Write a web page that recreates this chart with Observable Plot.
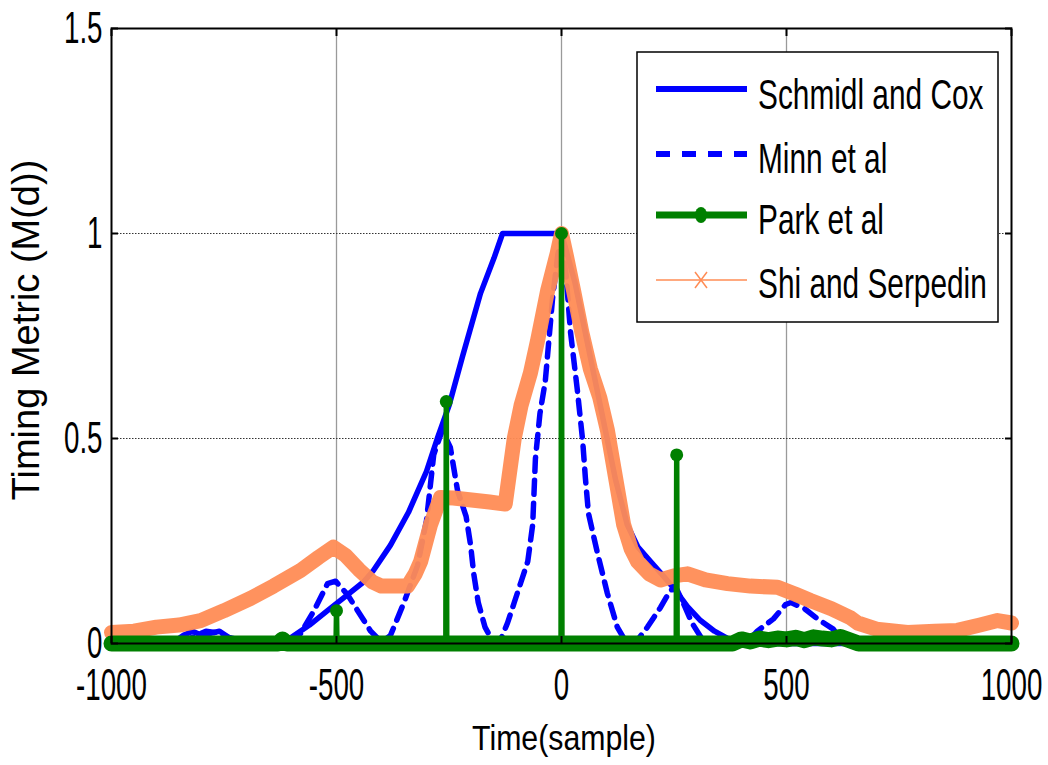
<!DOCTYPE html>
<html>
<head>
<meta charset="utf-8">
<script src="https://cdn.jsdelivr.net/npm/d3@7"></script>
<script src="https://cdn.jsdelivr.net/npm/@observablehq/plot@0.6"></script>
<style>
  html, body { margin: 0; padding: 0; background: #fff; }
  svg { display: block; }
</style>
</head>
<body>
<script>
// ---- Data ----
const xTicks = [-1000, -500, 0, 500, 1000];
const yTicks = [0, 0.5, 1, 1.5];
const seriesNames = ["Schmidl and Cox", "Minn et al", "Park et al", "Shi and Serpedin"];

const schmidlT = [-1000, -900, -860, -840, -820, -800, -780, -760, -740, -700, -650, -600, -560, -520, -480, -440, -418, -380, -340, -300, -276, -250, -220, -180, -150, -131, -60, 0, 30, 60, 90, 120, 146, 170, 198, 230, 253, 280, 309, 340, 370, 400, 450, 1000];
const schmidlV = [0, 0, 0.005, 0.02, 0.03, 0.02, 0.025, 0.03, 0.015, 0.005, 0.003, 0.015, 0.045, 0.08, 0.115, 0.15, 0.178, 0.24, 0.32, 0.42, 0.5, 0.58, 0.7, 0.854, 0.94, 1.0, 1.0, 1.0, 0.88, 0.72, 0.56, 0.4, 0.29, 0.235, 0.2, 0.16, 0.13, 0.09, 0.056, 0.03, 0.012, 0.003, 0, 0];

const minnT = [-1000, -850, -820, -790, -760, -730, -700, -600, -580, -550, -520, -502, -476, -453, -424, -400, -380, -350, -320, -300, -284, -265, -247, -231, -212, -202, -195, -185, -170, -155, -145, -135, -120, -105, -90, -75, -64, -58, -48, -36, -20, -8, 0, 10, 20, 35, 47, 53, 60, 80, 102, 124, 145, 170, 191, 220, 242, 255, 270, 290, 310, 330, 410, 435, 471, 498, 510, 540, 569, 604, 625, 640, 1000];
const minnV = [0, 0, 0.015, 0.03, 0.025, 0.01, 0, 0, 0.024, 0.08, 0.146, 0.152, 0.12, 0.08, 0.03, 0.003, 0.02, 0.1, 0.19, 0.3, 0.46, 0.52, 0.478, 0.373, 0.31, 0.24, 0.17, 0.1, 0.04, 0.01, 0, 0.01, 0.05, 0.1, 0.15, 0.2, 0.29, 0.45, 0.56, 0.64, 0.84, 0.95, 0.98, 0.9, 0.76, 0.62, 0.495, 0.405, 0.317, 0.22, 0.122, 0.04, 0, 0.01, 0.04, 0.088, 0.13, 0.135, 0.1, 0.05, 0.015, 0, 0, 0.03, 0.06, 0.095, 0.1, 0.085, 0.06, 0.035, 0.005, 0, 0];

const parkT = [-1000, -630, -620, -610, -501, -500, -499, -257, -256, -255, -1, 0, 1, 255, 256, 257, 380, 400, 420, 440, 460, 480, 500, 520, 540, 560, 580, 600, 620, 640, 660, 1000];
const parkV = [0, 0, 0.01, 0, 0, 0.08, 0, 0, 0.59, 0, 0, 1.0, 0, 0, 0.46, 0, 0, 0.01, 0.005, 0.012, 0.008, 0.012, 0.01, 0.014, 0.008, 0.015, 0.012, 0.01, 0.016, 0.008, 0, 0];

const shiT = [-1000, -950, -900, -850, -802, -750, -691, -640, -580, -540, -507, -480, -450, -420, -400, -370, -342, -325, -313, -291, -269, -240, -200, -160, -125, -115, -105, -90, -69, -53, -31, -10, 0, 10, 27, 45, 64, 85, 102, 124, 138, 155, 169, 195, 220, 250, 280, 320, 369, 420, 480, 520, 553, 600, 642, 658, 700, 769, 830, 880, 930, 969, 1000];
const shiV = [0.027, 0.03, 0.04, 0.045, 0.056, 0.08, 0.11, 0.14, 0.178, 0.21, 0.235, 0.215, 0.18, 0.15, 0.14, 0.14, 0.14, 0.17, 0.2, 0.29, 0.356, 0.355, 0.35, 0.345, 0.34, 0.42, 0.5, 0.58, 0.66, 0.74, 0.86, 0.95, 1.0, 0.95, 0.86, 0.76, 0.67, 0.6, 0.52, 0.38, 0.29, 0.23, 0.2, 0.17, 0.155, 0.165, 0.17, 0.155, 0.146, 0.14, 0.137, 0.12, 0.105, 0.085, 0.063, 0.05, 0.035, 0.027, 0.03, 0.032, 0.045, 0.056, 0.05];

const colors = { schmidl: "#0000ff", minn: "#0000ff", park: "#008000", shi: "#ff8c55" };

// ---- tables built from the arrays ----
const zip = (T, V) => T.map((t, i) => ({ t, v: V[i] }));
const schmidl = zip(schmidlT, schmidlV);
const minn = zip(minnT, minnV);
const park = zip(parkT, parkV);
const parkBase = park.filter(d => d.v < 0.05);
const parkPeaks = park.filter(d => d.v >= 0.05);
const shi = zip(shiT, shiV);

const FONT = "'Liberation Sans', Arial, Helvetica, sans-serif";

const chart = Plot.plot({
  width: 1048,
  height: 765,
  marginLeft: 111,
  marginRight: 37,
  marginTop: 28,
  marginBottom: 122,
  x: { domain: [-1000, 1000] },
  y: { domain: [0, 1.5] },
  style: { background: "white", fontFamily: FONT, color: "black" },
  marks: [
    Plot.gridX(xTicks.slice(1, -1), { stroke: "#9a9a9a", strokeOpacity: 1, strokeWidth: 1.3 }),
    Plot.gridY(yTicks.slice(1, -1), { stroke: "#333", strokeOpacity: 1, strokeWidth: 1, strokeDasharray: "1.5,1.5" }),
    Plot.line(schmidl, { x: "t", y: "v", stroke: colors.schmidl, strokeWidth: 5.5, strokeLinejoin: "round" }),
    Plot.line(minn, { x: "t", y: "v", stroke: colors.minn, strokeWidth: 5.5, strokeDasharray: "14,9" }),
    Plot.line(shi, { x: "t", y: "v", stroke: colors.shi, strokeWidth: 15, strokeLinejoin: "round", strokeOpacity: 0.95 }),
    Plot.line(parkBase, { x: "t", y: "v", stroke: colors.park, strokeWidth: 16, strokeLinecap: "round", strokeLinejoin: "round" }),
    Plot.line(park, { x: "t", y: "v", stroke: colors.park, strokeWidth: 5.5 }),
    Plot.dot(parkPeaks, { x: "t", y: "v", r: 6.5, fill: colors.park }),
    Plot.frame({ stroke: "black", strokeWidth: 2 }),
    Plot.axisX(xTicks, { tickSize: -7, fill: "none", label: null, strokeWidth: 2 }),
    Plot.axisX(xTicks, { anchor: "top", tickSize: -7, fill: "none", label: null, strokeWidth: 2 }),
    Plot.axisY(yTicks, { tickSize: -7, fill: "none", label: null, strokeWidth: 2 }),
    Plot.axisY(yTicks, { anchor: "right", tickSize: -7, fill: "none", label: null, strokeWidth: 2 }),
    Plot.axisX(xTicks, { tickSize: 0, tickPadding: 25, fontSize: 44, label: null, tickFormat: d => String(d) }),
    Plot.axisY(yTicks, { tickSize: 0, tickPadding: 9, fontSize: 44, label: null, tickFormat: d => String(d) })
  ]
});

document.body.appendChild(chart);
const svg = d3.select(chart);

function squeeze(sel, k) {
  sel.each(function () {
    const L = this.getComputedTextLength();
    this.setAttribute("textLength", (L * k).toFixed(2));
    this.setAttribute("lengthAdjust", "spacingAndGlyphs");
  });
}

squeeze(svg.selectAll('g[aria-label="x-axis tick label"] text, g[aria-label="y-axis tick label"] text'), 0.63);

// axis titles
const xl = svg.append("text")
  .attr("x", 564).attr("y", 750)
  .attr("text-anchor", "middle")
  .attr("font-family", FONT).attr("font-size", 35)
  .attr("fill", "black")
  .text("Time(sample)");
squeeze(xl, 0.865);

svg.append("text")
  .attr("transform", "translate(39,330) rotate(-90)")
  .attr("text-anchor", "middle")
  .attr("font-family", FONT).attr("font-size", 38)
  .attr("fill", "black")
  .text("Timing Metric (M(d))");

// legend
const lg = svg.append("g").attr("class", "legend");
lg.append("rect").attr("x", 637).attr("y", 52).attr("width", 361).attr("height", 270)
  .attr("fill", "white").attr("stroke", "black").attr("stroke-width", 1.5);
const rows = [
  { name: seriesNames[0], ly: 89, ty: 109 },
  { name: seriesNames[1], ly: 154, ty: 173 },
  { name: seriesNames[2], ly: 215, ty: 234 },
  { name: seriesNames[3], ly: 280, ty: 298 }
];
lg.append("line").attr("x1", 656).attr("x2", 747).attr("y1", rows[0].ly).attr("y2", rows[0].ly)
  .attr("stroke", colors.schmidl).attr("stroke-width", 6);
lg.append("line").attr("x1", 656).attr("x2", 747).attr("y1", rows[1].ly).attr("y2", rows[1].ly)
  .attr("stroke", colors.minn).attr("stroke-width", 6).attr("stroke-dasharray", "14,12");
lg.append("line").attr("x1", 656).attr("x2", 747).attr("y1", rows[2].ly).attr("y2", rows[2].ly)
  .attr("stroke", colors.park).attr("stroke-width", 7);
lg.append("ellipse").attr("cx", 701).attr("cy", rows[2].ly).attr("rx", 6).attr("ry", 8).attr("fill", colors.park);
lg.append("line").attr("x1", 656).attr("x2", 747).attr("y1", rows[3].ly).attr("y2", rows[3].ly)
  .attr("stroke", colors.shi).attr("stroke-width", 1.5);
lg.append("path").attr("d", "M695,272 L707,288 M707,272 L695,288")
  .attr("stroke", colors.shi).attr("stroke-width", 1.5).attr("fill", "none");
rows.forEach(r => {
  const t = lg.append("text").attr("x", 758).attr("y", r.ty)
    .attr("text-anchor", "start")
    .attr("font-family", FONT).attr("font-size", 42).attr("fill", "black").text(r.name);
  squeeze(t, 0.71);
});
</script>
</body>
</html>
